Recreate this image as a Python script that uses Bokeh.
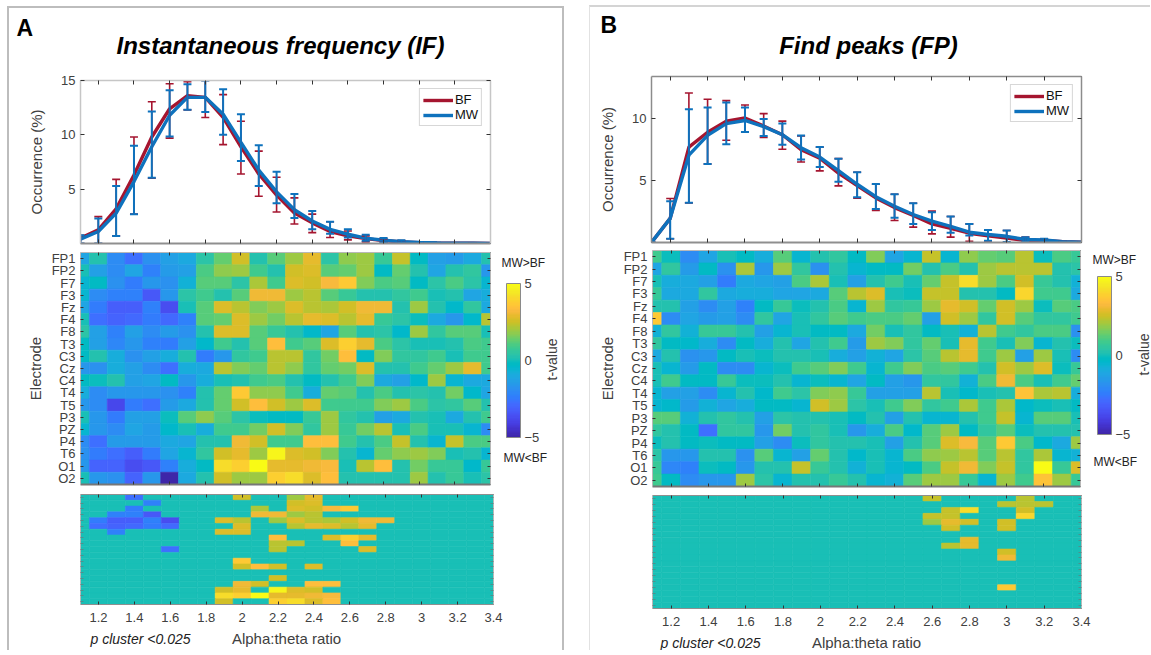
import math
from bokeh.plotting import figure
from bokeh.layouts import row, column
from bokeh.embed import file_html
from bokeh.resources import INLINE
from bokeh.models import (Range1d, LinearAxis, FixedTicker, Label, ColorBar, LinearColorMapper,
                          Legend, LegendItem, Whisker, TeeHead, ColumnDataSource)

# ---------------- data ----------------
ratio = [1.1,1.2,1.3,1.4,1.5,1.6,1.7,1.8,1.9,2.0,2.1,2.2,2.3,2.4,2.5,2.6,2.7,2.8,2.9,3.0,3.1,3.2,3.3,3.4]
x_ticks = [1.2,1.4,1.6,1.8,2.0,2.2,2.4,2.6,2.8,3.0,3.2,3.4]
electrodes = ["FP1","FP2","F7","F3","Fz","F4","F8","T3","C3","Cz","C4","T4","T5","P3","PZ","P4","T6","O1","O2"]

A_bf_mean = [0.5,1.25,3.2,6.3,9.8,12.4,13.6,13.45,11.6,8.9,6.4,4.45,2.8,1.9,1.1,.7,.45,.27,.15,.08,.05,.03,.02,.01]
A_bf_hi   = [.76,2.47,5.9,9.8,13.05,14.7,14.9,15.0,13.7,11.25,8.5,6.1,4.2,2.7,2.0,1.15,.7,.45,.28,.12,.06,.04,.02,.01]
A_bf_lo   = [0,0,.7,2.7,6.0,9.7,12.3,11.6,9.1,6.4,4.35,2.9,1.8,1.0,.55,.33,.15,.08,.03,.02,.02,.01,.01,0]
A_mw_mean = [.4,1.1,2.8,5.7,8.9,11.8,13.45,13.45,11.9,9.3,6.75,4.75,3.1,2.07,1.3,.85,.5,.3,.17,.09,.05,.03,.02,.01]
A_mw_hi   = [.76,2.3,5.3,9.0,12.15,14.1,14.65,15.0,14.2,11.9,9.05,6.6,4.55,3.0,2.0,1.3,.8,.5,.3,.13,.07,.04,.02,.01]
A_mw_lo   = [0,0,.7,2.7,6.05,9.85,12.3,12.1,10.0,7.6,5.3,3.7,2.35,1.3,.9,.55,.25,.1,.05,.02,.02,.01,.01,0]

B_bf_mean = [0,1.95,7.7,8.9,9.8,10.05,9.4,8.7,7.5,6.8,5.6,4.6,3.6,2.82,2.18,1.5,1.15,.75,.54,.35,.16,.17,.06,.02]
B_bf_hi   = [0,3.55,12.07,11.56,11.45,11.1,10.4,9.8,8.6,7.7,6.77,5.67,4.7,3.9,3.17,2.53,2.1,1.5,1.0,.97,.43,.3,.08,.02]
B_bf_lo   = [0,.3,3.2,6.34,8.25,8.9,8.47,7.53,6.5,5.78,4.57,3.58,2.58,1.77,1.24,.7,.43,.1,.1,0,.03,0,0,0]
B_mw_mean = [0,1.95,7.05,8.65,9.6,9.85,9.35,8.7,7.65,6.9,5.8,4.7,3.7,2.93,2.26,1.72,1.3,.83,.65,.5,.24,.2,.07,.02]
B_mw_hi   = [0,3.33,10.75,10.9,11.3,10.9,9.97,9.6,8.63,7.7,6.77,5.67,4.73,3.9,3.17,2.45,2.1,1.5,1.0,.97,.43,.3,.08,.02]
B_mw_lo   = [0,.3,3.2,6.34,7.93,8.92,8.6,7.9,6.7,6.1,4.9,3.65,2.7,2.0,1.5,1.0,.78,.56,.15,.05,.05,.02,.01,0]

A_t = [
 [-1.2,.2,-2,-2.8,-1.8,-1.4,-1,.4,1.4,2.5,.3,1.2,2,2.9,.4,1.8,2,.7,2.4,-.3,-1.3,-1.5,-1,.2],
 [0,-1.3,-2,-1.2,-2.2,-1.5,-1.4,1,1.8,2,.8,.2,2.5,2.7,1.2,1.3,1.9,-.3,1.3,.3,-1.1,.3,.6,-1.6],
 [-.5,-.3,-1.8,-2.5,-1.7,-1.8,-.7,1.1,1.2,.4,2.1,.9,2.7,2.6,3.2,3.6,1.6,1,1.1,-.2,.4,1,.4,-.6],
 [-.6,-2,-2.3,-2.3,-3.3,-1.7,.4,.8,.3,1.1,3.1,3,2,2.2,1.1,.7,.3,.2,.5,.9,0,.3,-1.2,-.8],
 [-1.2,-2.4,-3.2,-3.2,-2.2,-3.7,.1,1.1,2.7,2.2,1.6,2,2.8,2.3,2.1,2.5,3,3.1,.2,2,.3,-.4,.5,-1],
 [0,-2.7,-3,-2.9,-2.5,-2.9,-2.2,1.1,1.4,2.8,1.9,1.5,2.3,2.9,2.8,2.2,2.9,.7,.4,-.1,-1,-1.6,-.4,2.3],
 [.4,-1.4,-2.3,-1.4,-1.9,-1.5,-1.8,.3,2.7,2.8,1.1,.7,.2,-.4,-1.2,1.1,.3,.4,-.4,2,.5,1.1,1.2,.1],
 [-.2,-1.4,-2.1,-1.6,-2.3,-2.4,-1.3,-.4,.9,.2,1.2,3.4,.8,1.1,2.7,3.8,2.9,1,.4,.1,.1,.2,1,.9],
 [-.3,.2,-.9,-1.8,-1.3,-.9,.3,-2.5,-1.6,.6,.9,2.3,2.3,.6,1.5,3.3,-.2,1.6,.6,.6,.8,0,.8,.8],
 [-1.7,-1.8,-.8,-1.3,-2,-2.8,-.8,-1,2.2,1.7,1.3,2.2,1.8,.6,1.4,1.5,2.7,.3,.3,.8,1.4,1.9,2.9,.9],
 [-.3,-.1,.3,-1.4,-1.2,-.2,-1.6,-.8,.1,.3,.8,1,.2,-.2,.2,.9,1.6,-1,-1.3,-.4,2,-.6,-1,-1],
 [-.9,-2,-1.7,-1.6,-1.6,-1.8,-2.3,.2,1.4,3.7,1.8,1.8,.8,-.8,1.4,1.2,.2,1,.2,.4,.2,1.5,-.4,-1.1],
 [-1.6,-1.9,-3.9,-2.5,-2.7,-1.5,-1,.2,1.3,2.6,3.3,2.5,2,2.8,.9,.8,.8,1.7,2,1,.4,.5,1.2,.3],
 [.1,-1.6,-2.4,-1.3,-1.4,-.1,1.2,1.8,1.1,.4,-.1,-.3,-.2,.7,2,.6,.3,-1.3,-1,.2,0,-1,.2,.9],
 [-.5,-1.6,-1.9,-1.2,-1.5,-.4,.1,-.9,.8,.9,1.5,2.6,1.6,.5,1.9,.7,1.5,2.3,0,1,.1,.1,-.5,-2],
 [-2,-2.7,-1.5,-1.5,-1.5,-1,-1.2,.3,.3,3,2.5,.8,.9,3.3,3.3,.8,.3,1,2.4,.2,-.5,2.4,1,1],
 [-1.8,-2.5,-2.8,-3.2,-2.5,-1.2,-.5,.5,2.5,2.9,1.9,4.7,2.7,2.6,1.7,.3,-.5,1.3,1.8,1.9,1.7,.1,.3,-.5],
 [-1.6,-3.1,-3,-3.6,-3.4,-2.2,-.9,-.3,4.2,3.8,4.9,2.9,2.9,3,3.2,0,2.3,3.3,.3,1.5,.7,.7,-.4,.7],
 [.1,-1.7,-1.8,-3,-1.7,-4.9,-1,.3,2.5,1.9,1.9,3.8,4.1,2.8,3.3,.2,.2,.3,.2,2,.2,.7,.1,.4],
]
B_t = [
 [.8,-.1,-1.9,-1.1,.1,-.2,-.9,1.1,-.6,.3,.5,-.2,1.6,-1.2,-.6,2.4,-.5,1.8,1.3,1.1,2.2,-.1,1,.7],
 [-1.2,.5,-1.5,-.2,-1.8,2.1,-1.6,1.9,.6,-1.8,.3,-.6,-.3,-.3,1.5,.2,1,.2,1.9,2.2,2.3,2.3,.3,.4],
 [.1,-.8,-1,-1.4,-2.4,-1,-1.1,-1.3,1,2.1,.1,-1.4,.2,.9,.1,1.3,2.4,4.2,2,1,2.5,.7,.3,-.7],
 [.7,-1,-1,.5,-1,-.9,-.9,-1.2,-1.1,-1,1.2,2.3,2.8,.1,-.1,2.4,2.4,.2,.2,-.2,4,.9,.9,-1],
 [.2,.2,-1.4,-2,-1.4,-2.3,-.3,.7,-.1,.3,1,-.5,2,.5,.7,2,2.9,2.5,1.3,2.6,1.9,-.1,1.2,1],
 [3.6,-2,-1.2,-1.5,-1.3,-2,.5,-1.1,.1,.5,1.2,.9,1,1,1.3,-1.3,2.5,1.9,.5,2.5,1.1,.5,.6,.9],
 [-.7,.6,-.7,.7,.7,.3,-1.3,-.6,.1,-.3,-.2,-1,1.5,.1,.5,-.2,.1,-.7,2.3,.9,.5,1,1,-1.8],
 [.6,-.3,-.4,-.9,-1.9,-.3,-.9,.2,-1.2,.2,.8,-1.5,1.9,1.7,.5,1.3,.1,2.9,.9,0,1.6,-.5,.2,-.1],
 [-1,.3,-1.8,-1.7,-.3,.1,-.1,.3,.2,.1,-.8,-1.3,-.7,-1.2,.4,1.1,2.2,2.9,.8,2,-1.4,2,0,-2],
 [.1,-.5,-1.5,-.3,-2,-2,-.5,-.1,.8,1.1,1.6,.8,-.5,.9,1.6,1,1.1,.8,.2,2.5,2,2.8,-.1,.7],
 [.1,.8,-.3,-.3,.7,-.1,-.1,.3,-.6,-.1,-.5,-1.2,-.3,-1.4,-1.6,.6,.6,-.7,1,3,1,.1,.8,1.4],
 [-.6,-1.3,-1.4,-2,-.6,.3,-.4,.9,.4,1.7,1.8,.7,-1.4,-1.3,-1.3,2.2,0,-.4,.1,.2,3.5,2.1,2.2,-.9],
 [-.6,-.4,-1.5,-.7,-1.2,-.8,-.2,-.2,-.6,2.5,1.9,.4,.1,.8,1.7,.5,.9,2.1,.9,2.1,-.4,-.1,.1,-.3],
 [1.1,1.2,-.7,.2,.5,.2,-1.3,.4,.3,.2,0,-.2,.3,-1.3,.2,-.5,-.5,.3,.9,2.4,-.5,1.2,1.1,.1],
 [.5,.3,-.2,-2.7,.5,.5,-1.6,1.5,.3,.5,.1,-1.7,-.8,1,-.4,1.2,1.9,-.3,.5,1.2,-.1,.3,.3,.2],
 [-.1,.3,-.3,-.1,-.2,-.3,-1.4,-1.9,-.1,.6,.3,.2,.1,-1.4,.2,1.1,2.7,3.2,1.1,3.6,1,-.4,-1,1.9],
 [.4,-1.7,-1.7,.2,.2,-1.8,1.2,-.6,-1.3,1.3,.3,-.4,0,-.5,1,1.8,1.9,2.3,1.1,2.2,.6,2.1,-.6,-.7],
 [.7,-2.1,-2.3,-.1,-.2,-1.6,.3,.3,2.4,.7,.3,-.7,.1,-.6,-.3,1,2.4,3.1,1.6,2.4,.5,4.9,.7,2.8],
 [.8,-.3,-2,-1.6,-1.7,1.9,.4,-.6,.2,.2,.7,.2,-.6,-.7,1.1,1.9,1.9,.7,-.6,2,.8,3.5,1.9,.7],
]
# significant cells per electrode row (column indices into ratio)
A_sig = {0:[3,9,12,13],1:[4,12,13],2:[3,10,12,13,14,15],3:[2,3,4,10,11,12,13],
         4:[1,2,3,4,5,8,9,11,12,13,14,15,16,17],5:[1,2,3,4,5,9,12,13,14,15,16],6:[2,8,9],
         7:[11,14,15,16],8:[11,12,15],9:[5,11,16],11:[9],12:[9,10,11,13],14:[11],
         15:[9,10,13,14],16:[8,9,11,12,13],17:[8,9,10,11,12,13,14],18:[8,11,12,13,14]}
B_sig = {0:[15,20],1:[19,20,21],2:[16,17,20],3:[15,16,20],4:[15,16,17,19],5:[16,19],
         7:[17],8:[16,17],9:[19],10:[19],15:[19]}

PARULA = [(.2422,.1504,.6603),(.2504,.165,.7076),(.2578,.1818,.7511),(.2647,.1978,.7952),(.2706,.2147,.8364),
 (.2751,.2342,.871),(.2783,.2559,.8991),(.2803,.2782,.9221),(.2813,.3006,.9414),(.281,.3228,.9579),(.2795,.3447,.9717),
 (.276,.3667,.9829),(.2699,.3892,.9906),(.2602,.4123,.9952),(.244,.4358,.9988),(.2206,.4603,.9973),(.1963,.4847,.9892),
 (.1834,.5074,.9798),(.1786,.5289,.9682),(.1764,.5499,.952),(.1687,.5703,.9359),(.154,.5902,.9218),(.146,.6091,.9079),
 (.138,.6276,.8973),(.1248,.6459,.8883),(.1113,.6635,.8763),(.0952,.6798,.8598),(.0689,.6948,.8394),(.0297,.7082,.8163),
 (.0036,.7203,.7917),(.0067,.7312,.766),(.0433,.7411,.7394),(.0964,.75,.712),(.1408,.7584,.6842),(.1717,.767,.6554),
 (.1938,.7758,.6251),(.2161,.7843,.5923),(.247,.7918,.5567),(.2906,.7973,.5188),(.3406,.8008,.4789),(.3909,.8029,.4354),
 (.4456,.8024,.3909),(.5044,.7993,.348),(.5616,.7942,.3045),(.6174,.7876,.2612),(.672,.7793,.2227),(.7242,.7698,.191),
 (.7738,.7598,.1646),(.8203,.7498,.1535),(.8634,.7406,.1596),(.9035,.733,.1774),(.9393,.7288,.21),(.9728,.7298,.2394),
 (.9956,.7434,.2371),(.997,.7659,.2199),(.9952,.7893,.2028),(.9892,.8136,.1885),(.9786,.8386,.1766),(.9676,.8639,.1643),
 (.961,.889,.1537),(.9597,.9135,.1423),(.9628,.9373,.1265),(.9691,.9606,.1064),(.9769,.9839,.0805)]
palette = ["#%02x%02x%02x" % tuple(round(c*255) for c in rgb) for rgb in PARULA]

FONT = "Liberation Sans"
BF_C, MW_C = "#a5152f", "#0e72bd"
TICK_TXT = "#404040"
mapper = LinearColorMapper(palette=palette, low=-5, high=5)
ROW_TICKS = list(range(len(electrodes)))
ORIGINS = {}

def base(w, h, l, r, t, b, y_range):
    p = figure(width=w, height=h, min_border_left=l, min_border_right=r, min_border_top=t, min_border_bottom=b,
               x_range=Range1d(1.1, 3.4), y_range=y_range, toolbar_location=None, output_backend="svg", tools="")
    p.grid.visible = False
    p.outline_line_color = None
    p.background_fill_color = "white"
    p.border_fill_color = "white"
    return p

def text_panel(w, h, page_left, page_top):
    """A figure whose frame is all of it: holds texts placed by their page position."""
    p = figure(width=w, height=h, min_border=0, x_axis_type=None, y_axis_type=None, x_range=Range1d(0, 1),
               y_range=Range1d(0, 1), toolbar_location=None, output_backend="svg", tools="")
    p.grid.visible = False
    p.outline_line_color = None
    ORIGINS[p.id] = (page_left, page_top + h)
    return p

def lab(p, text, px, py, size, align="left", angle=0, style="normal", color="black"):
    ox, oy = ORIGINS[p.id]
    p.add_layout(Label(x=px - ox, y=oy - py, x_units="screen", y_units="screen", text=text,
                       text_font=FONT, text_font_size=size, text_font_style=style, text_color=color,
                       text_align=align, text_baseline="middle", angle=angle))

def style_axis(ax, ticks, color, width, labels=None, tick_len=4, tick_color="#333333"):
    ax.ticker = FixedTicker(ticks=ticks)
    ax.axis_line_color = color
    ax.axis_line_width = width
    ax.major_tick_in = tick_len
    ax.major_tick_out = 0
    ax.minor_tick_line_color = None
    ax.major_tick_line_color = tick_color
    ax.major_tick_line_width = 1
    ax.major_label_text_font = FONT
    ax.major_label_text_font_size = "13px"
    ax.major_label_text_color = TICK_TXT
    ax.major_label_overrides = labels if labels is not None else {t: "" for t in ticks}
    ax.major_label_standoff = 5 if labels is not None else 0

def add_blank(p, side, ticks, color, width, tick_len=4, tick_color="#333333"):
    ax = LinearAxis()
    style_axis(ax, ticks, color, width, tick_len=tick_len, tick_color=tick_color)
    p.add_layout(ax, side)

def top_plot(w, h, l, r, t, b, ymax, yticks, bfm, bfh, bfl, mwm, mwh, mwl, frame_col, standoff):
    p = base(w, h, l, r, t, b, Range1d(0, ymax))
    xa, ya = p.xaxis[0], p.yaxis[0]
    style_axis(xa, x_ticks, "#8f8f8f", 2)
    style_axis(ya, yticks, frame_col, 1.5, labels={v: str(v) for v in yticks})
    ya.axis_label = "Occurrence (%)"
    ya.axis_label_text_font = FONT
    ya.axis_label_text_font_style = "normal"
    ya.axis_label_text_font_size = "15px"
    ya.axis_label_text_color = TICK_TXT
    ya.axis_label_standoff = standoff
    add_blank(p, "above", x_ticks, frame_col, 1.5)
    add_blank(p, "right", yticks, frame_col, 1.5)
    for hi, lo, mean, col, lw in ((bfh, bfl, bfm, BF_C, 1.6), (mwh, mwl, mwm, MW_C, 2.0)):
        src = ColumnDataSource(dict(x=ratio, hi=hi, lo=lo))
        p.add_layout(Whisker(source=src, base="x", upper="hi", lower="lo", line_color=col, line_width=lw,
                             upper_head=TeeHead(size=8, line_color=col, line_width=lw),
                             lower_head=TeeHead(size=8, line_color=col, line_width=lw), level="glyph"))
    r1 = p.line(ratio, bfm, line_color=BF_C, line_width=3.4)
    r2 = p.line(ratio, mwm, line_color=MW_C, line_width=3.4)
    leg = Legend(items=[LegendItem(label="BF", renderers=[r1]), LegendItem(label="MW", renderers=[r2])],
                 location="top_right", margin=8, padding=3, spacing=0, glyph_width=30, glyph_height=14,
                 label_standoff=2, label_text_font=FONT, label_text_font_size="13px", label_text_color="#111111",
                 border_line_color="#b0b0b0", border_line_width=1.2, label_height=14)
    p.add_layout(leg)
    return p

def cells(p, grid):
    xs, ys, ts = [], [], []
    for i, rowv in enumerate(grid):
        for j, v in enumerate(rowv):
            xs.append(ratio[j]); ys.append(i); ts.append(v)
    cm = {"field": "t", "transform": mapper}
    p.rect("x", "y", width=0.1, height=1, source=ColumnDataSource(dict(x=xs, y=ys, t=ts)),
           fill_color=cm, line_color=cm, line_width=0.6)

def heat(w, h, l, r, t, b, grid, standoff):
    p = base(w, h, l, r, t, b, Range1d(18.5, -0.5))
    cells(p, grid)
    style_axis(p.xaxis[0], x_ticks, "#777777", 2, tick_len=3)
    ya = p.yaxis[0]
    style_axis(ya, ROW_TICKS, "#b8b8b8", 1, labels=dict(enumerate(electrodes)), tick_len=3)
    ya.axis_label = "Electrode"
    ya.axis_label_text_font = FONT
    ya.axis_label_text_font_style = "normal"
    ya.axis_label_text_font_size = "15px"
    ya.axis_label_text_color = TICK_TXT
    ya.axis_label_standoff = standoff
    add_blank(p, "above", x_ticks, "#b8b8b8", 1, tick_len=3)
    add_blank(p, "right", ROW_TICKS, "#b8b8b8", 1, tick_len=3)
    return p

def sig_grid(grid, sig):
    return [[v if j in sig.get(i, []) else 0 for j, v in enumerate(rowv)] for i, rowv in enumerate(grid)]

def mask(w, h, l, r, t, b, grid, sig):
    p = base(w, h, l, r, t, b, Range1d(18.5, -0.5))
    cells(p, sig_grid(grid, sig))
    xa = p.xaxis[0]
    style_axis(xa, x_ticks, "#8f8f8f", 1, labels={1.2: "1.2", 1.4: "1.4", 1.6: "1.6", 1.8: "1.8", 2.0: "2", 2.2: "2.2",
                                                   2.4: "2.4", 2.6: "2.6", 2.8: "2.8", 3.0: "3", 3.2: "3.2", 3.4: "3.4"},
               tick_len=3)
    xa.major_label_standoff = 8
    faint = "#4f8f8d"
    style_axis(p.yaxis[0], ROW_TICKS, "#b8b8b8", 1, tick_len=3, tick_color=faint)
    add_blank(p, "above", x_ticks, "#8f8f8f", 1, tick_len=3)
    add_blank(p, "right", ROW_TICKS, "#b8b8b8", 1, tick_len=3, tick_color=faint)
    return p

def side_panel(w, h, page_left, page_top, bar_left, bar_top, bar_h):
    p = text_panel(w, h, page_left, page_top)
    cb = ColorBar(color_mapper=mapper, location=(bar_left - page_left, page_top + h - bar_top - bar_h),
                  width=14, height=bar_h, padding=0, margin=0,
                  ticker=FixedTicker(ticks=[-5, 0, 5]), major_label_text_font=FONT, major_label_text_font_size="13px",
                  major_label_text_color=TICK_TXT, major_tick_line_color=None, minor_tick_line_color=None,
                  bar_line_color="#8a8a8a", border_line_color=None, background_fill_color=None, label_standoff=4)
    p.add_layout(cb, "center")
    return p

# ---------------- panel A ----------------
hA = text_panel(553, 64, 9, 8)
lab(hA, "A", 16, 27, "23px", style="bold")
lab(hA, "Instantaneous frequency (IF)", 280, 45, "24px", align="center", style="bold italic")
A1 = top_plot(553, 175, 71, 72, 8, 4, 15, [5, 10, 15], A_bf_mean, A_bf_hi, A_bf_lo, A_mw_mean, A_mw_hi, A_mw_lo, "#c6c6c6", 13)
A2 = heat(487, 241, 71, 6, 5, 4, A_t, 5)
sA = side_panel(66, 241, 496, 247, 506, 287, 154)
lab(sA, "MW>BF", 501, 266, "12px", color="#222222")
lab(sA, "MW<BF", 503, 461, "12px", color="#222222")
lab(sA, "t-value", 551, 363, "14px", align="center", angle=math.pi/2, color=TICK_TXT)
A3 = mask(553, 140, 71, 69, 6, 24, A_t, A_sig)
fA = text_panel(553, 22, 9, 628)
lab(fA, "p cluster <0.025", 90, 638, "14px", style="italic", color="#222222")
lab(fA, "Alpha:theta ratio", 286, 638, "15px", align="center", color=TICK_TXT)
col_a = column(row(hA, spacing=0), row(A1, spacing=0), row(A2, sA, spacing=0), row(A3, spacing=0), row(fA, spacing=0),
               width=553, spacing=0, margin=(6, 25, 0, 7),
               styles={"border-top": "2px solid #bdbdbd", "border-left": "2px solid #bdbdbd",
                       "border-right": "2px solid #bdbdbd", "box-sizing": "content-box"})

# ---------------- panel B ----------------
hB = text_panel(560, 61, 590, 7)
lab(hB, "B", 600, 24, "23px", style="bold")
lab(hB, "Find peaks (FP)", 868, 45, "24px", align="center", style="bold italic")
B1 = top_plot(560, 178, 61, 69, 8, 4, 13.4, [5, 10], B_bf_mean, B_bf_hi, B_bf_lo, B_mw_mean, B_mw_hi, B_mw_lo, "#8c8c8c", 13)
B2 = heat(496, 244, 62, 6, 4, 4, B_t, 5)
sB = side_panel(64, 244, 1086, 246, 1097, 280, 158)
lab(sB, "MW>BF", 1092, 263, "12px", color="#222222")
lab(sB, "MW<BF", 1093, 465, "12px", color="#222222")
lab(sB, "t-value", 1143, 358, "14px", align="center", angle=math.pi/2, color=TICK_TXT)
B3 = mask(560, 140, 62, 69, 5, 22, B_t, B_sig)
fB = text_panel(560, 20, 590, 630)
lab(fB, "p cluster <0.025", 660, 642, "14px", style="italic", color="#222222")
lab(fB, "Alpha:theta ratio", 866, 642, "15px", align="center", color=TICK_TXT)
col_b = column(row(hB, spacing=0), row(B1, spacing=0), row(B2, sB, spacing=0), row(B3, spacing=0), row(fB, spacing=0),
               width=560, spacing=0, margin=(5, 0, 0, 0),
               styles={"border-top": "2px solid #d4d4d4", "border-left": "1px solid #e2e2e2", "box-sizing": "content-box"})

page = row(col_a, col_b, spacing=0)
open("out.html", "w").write(file_html(page, INLINE))
